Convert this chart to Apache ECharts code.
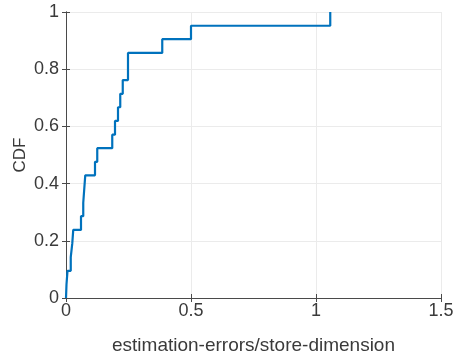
<!DOCTYPE html>
<html><head><meta charset="utf-8">
<script src="https://cdn.jsdelivr.net/npm/echarts@6/dist/echarts.min.js"></script>
<style>html,body{margin:0;padding:0;background:#fff}#c{width:453px;height:356px}</style>
</head><body><div id="c"></div>
<script>
// sorted estimation errors (normalized) and CDF levels
const errors = [0, 0.002, 0.006, 0.019, 0.025, 0.029, 0.060, 0.069, 0.073, 0.077, 0.116, 0.125, 0.185, 0.196, 0.208, 0.217, 0.227, 0.248, 0.248, 0.385, 0.500, 1.057];
const cdf = [0, 0.048, 0.095, 0.143, 0.190, 0.238, 0.286, 0.333, 0.381, 0.429, 0.476, 0.524, 0.571, 0.619, 0.667, 0.714, 0.762, 0.810, 0.857, 0.905, 0.952, 1.000];
const xTicks = [0, 0.5, 1, 1.5];
const yTicks = [0, 0.2, 0.4, 0.6, 0.8, 1];

const txt = '#3a3a3a';
const font = 'Liberation Sans, Arial, sans-serif';
const chart = echarts.init(document.getElementById('c'), null, {renderer: 'canvas'});
const axisCommon = {
  axisLine: {show: true, lineStyle: {color: '#4a4a4a', width: 1}},
  axisTick: {show: true, inside: true, length: 4, lineStyle: {color: '#4a4a4a'}},
};
chart.setOption({
  animation: false,
  grid: {left: 66, right: 12, top: 12, bottom: 58, containLabel: false, outerBoundsMode: 'none'},
  xAxis: [{
    type: 'value', min: 0, max: 1.5, interval: 0.5,
    ...axisCommon,
    axisLabel: {color: txt, fontSize: 18, fontFamily: font, margin: 4,
      formatter: v => xTicks.includes(+v.toFixed(2)) ? String(+v.toFixed(2)) : ''},
    splitLine: {show: true, lineStyle: {color: '#ebebeb'}},
    name: 'estimation-errors/store-dimension', nameLocation: 'middle', nameGap: 38,
    nameMoveOverlap: false,
    nameTextStyle: {color: txt, fontSize: 19, fontFamily: font}
  }, {
    type: 'value', min: 0, max: 1.5, interval: 0.5, position: 'top',
    ...axisCommon, axisLabel: {show: false}, splitLine: {show: false}
  }],
  yAxis: [{
    type: 'value', min: 0, max: 1, interval: 0.2,
    ...axisCommon,
    axisLabel: {color: txt, fontSize: 18, fontFamily: font, margin: 7,
      formatter: v => yTicks.includes(+v.toFixed(2)) ? String(+v.toFixed(2)) : ''},
    splitLine: {show: true, lineStyle: {color: '#ebebeb'}},
    name: 'CDF', nameLocation: 'middle', nameGap: 37,
    nameMoveOverlap: false,
    nameTextStyle: {color: txt, fontSize: 17, fontFamily: font}
  }, {
    type: 'value', min: 0, max: 1, interval: 0.2, position: 'right',
    ...axisCommon, axisLabel: {show: false}, splitLine: {show: false}
  }],
  series: [{
    type: 'line', step: 'end', showSymbol: false,
    data: errors.map((e, i) => [e, cdf[i]]),
    lineStyle: {color: '#0072BD', width: 2.2},
    itemStyle: {color: '#0072BD'}
  }]
});
</script></body></html>
